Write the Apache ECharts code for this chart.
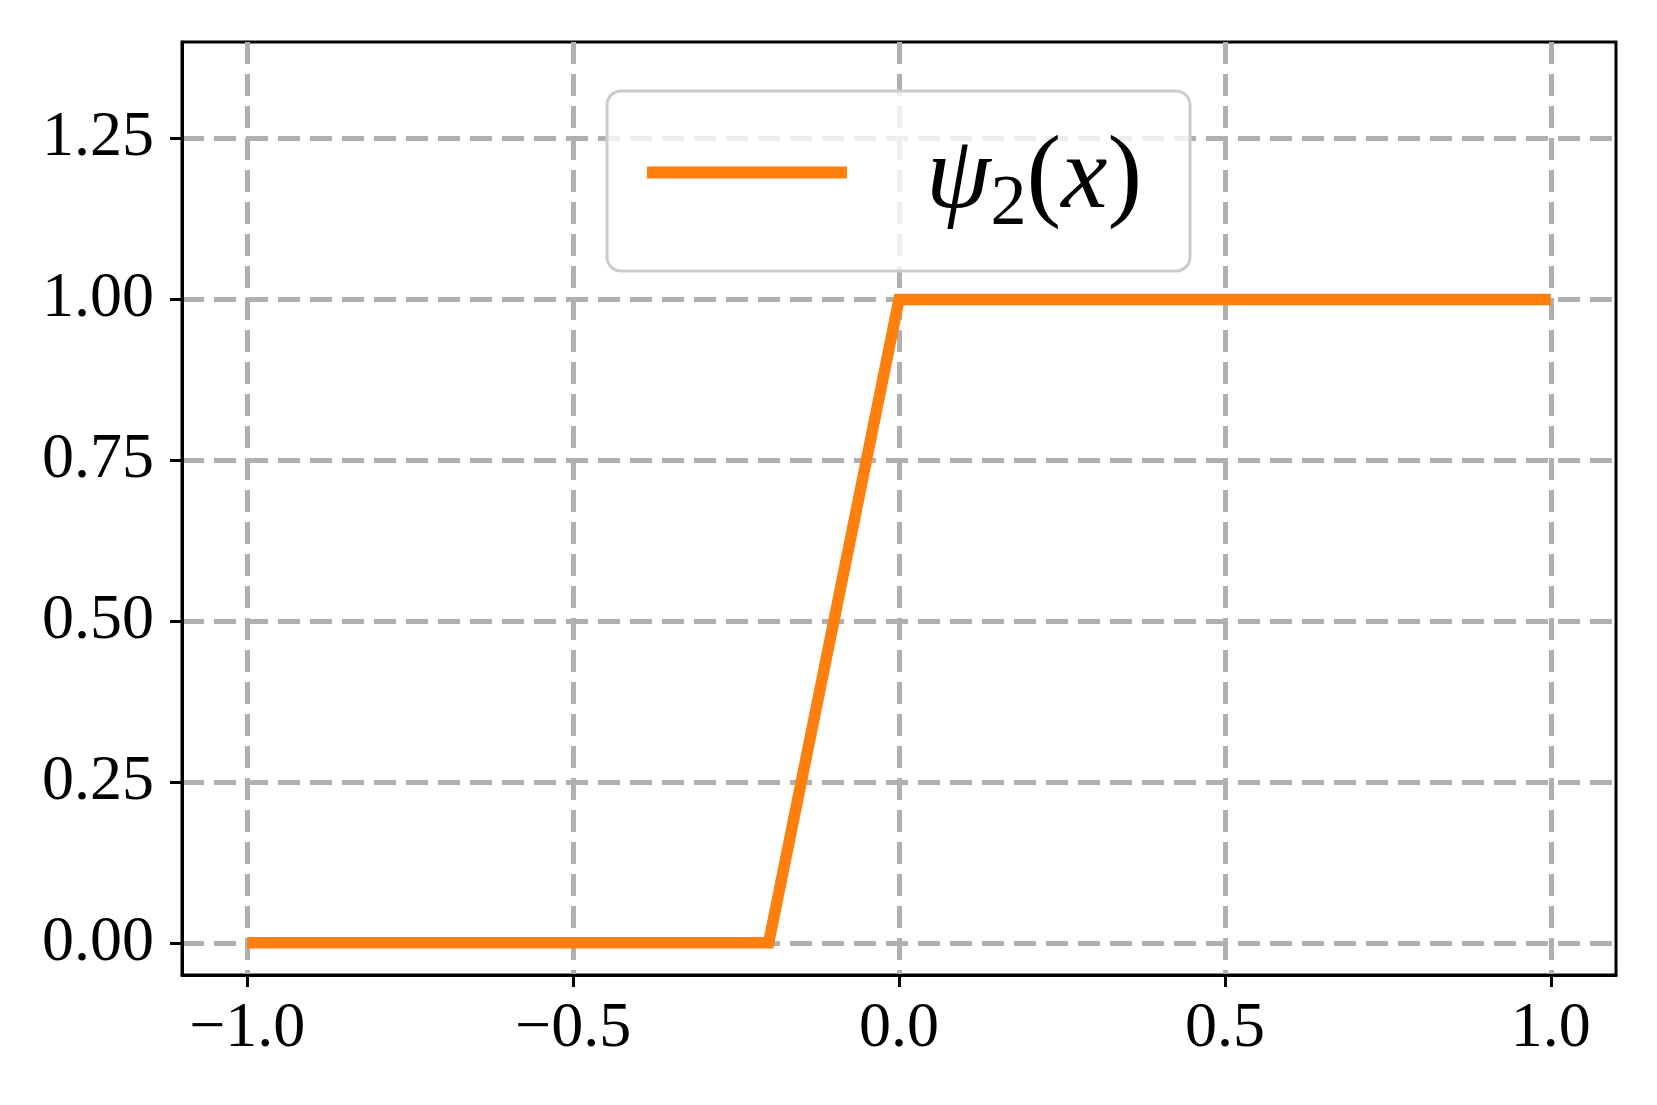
<!DOCTYPE html>
<html>
<head>
<meta charset="utf-8">
<script src="https://cdn.jsdelivr.net/npm/echarts@6/dist/echarts.min.js"></script>
<style>
  html, body { margin: 0; padding: 0; background: #fff; }
  #chart { width: 1657px; height: 1105px; }
</style>
</head>
<body>
<div id="chart"></div>
<script>
  // breakpoints of psi_2(x)
  const xs = [-1.0, -0.2, 0.0, 1.0]
  const ys = [0.0, 0.0, 1.0, 1.0]
  const xTicks = [-1.0, -0.5, 0.0, 0.5, 1.0]
  const yTicks = [0.0, 0.25, 0.5, 0.75, 1.0, 1.25]
  const seriesName = 'psi2'

  const font = 'Liberation Serif'
  const gridColor = '#b0b0b0'
  const minus = (s) => s.replace('-', '\u2212')

  const chart = echarts.init(document.getElementById('chart'))

  const gridLine = {
    show: true,
    lineStyle: { color: gridColor, width: 5, type: [22, 10] },
  }

  // legend text pieces: psi, subscript 2, (x)
  const txt = { fontFamily: font, fontSize: 104, color: '#000', lineHeight: 110, padding: [15, 0, 0, 0] }

  const option = {
    animation: false,
    backgroundColor: '#fff',
    grid: {
      left: 182,
      right: 41,
      top: 42,
      bottom: 130,
      show: true,
      borderColor: '#000',
      borderWidth: 3,
      backgroundColor: 'transparent',
    },
    legend: {
      left: 607,
      top: 91,
      data: [{ name: seriesName, icon: 'rect' }],
      itemWidth: 200,
      itemHeight: 12,
      padding: [13, 48, 30, 40],
      backgroundColor: 'rgba(255,255,255,0.8)',
      borderColor: '#cccccc',
      borderWidth: 3,
      borderRadius: 14,
      formatter: () => '{p|}{i|ψ}{s|2}{n|(}{i|x}{n|)}',
      textStyle: {
        rich: {
          p: { width: 74, lineHeight: 110, padding: [15, 0, 0, 0] },
          i: { ...txt, fontStyle: 'italic' },
          n: { ...txt },
          s: { ...txt, fontSize: 72, lineHeight: 60, padding: [65, 0, 0, 0] },
        },
      },
    },
    xAxis: {
      type: 'value',
      min: -1.1,
      max: 1.1,
      axisLine: { show: true, onZero: false, lineStyle: { color: '#000', width: 3 } },
      axisTick: { show: true, customValues: xTicks, length: 12, lineStyle: { color: '#000', width: 3 } },
      axisLabel: {
        customValues: xTicks,
        margin: 22,
        color: '#000',
        fontFamily: font,
        fontSize: 64,
        formatter: (v) => minus(v.toFixed(1)),
      },
      splitLine: gridLine,
    },
    yAxis: {
      type: 'value',
      min: -0.05,
      max: 1.4,
      axisLine: { show: true, onZero: false, lineStyle: { color: '#000', width: 3 } },
      axisTick: { show: true, customValues: yTicks, length: 12, lineStyle: { color: '#000', width: 3 } },
      axisLabel: {
        customValues: yTicks,
        margin: 28,
        color: '#000',
        fontFamily: font,
        fontSize: 64,
        formatter: (v) => minus(v.toFixed(2)),
      },
      splitLine: gridLine,
    },
    series: [
      {
        name: seriesName,
        type: 'line',
        data: xs.map((x, i) => [x, ys[i]]),
        showSymbol: false,
        symbol: 'none',
        color: '#ff7f0e',
        lineStyle: { color: '#ff7f0e', width: 11.5, cap: 'butt', join: 'miter' },
      },
    ],
  }

  chart.setOption(option)
</script>
</body>
</html>
